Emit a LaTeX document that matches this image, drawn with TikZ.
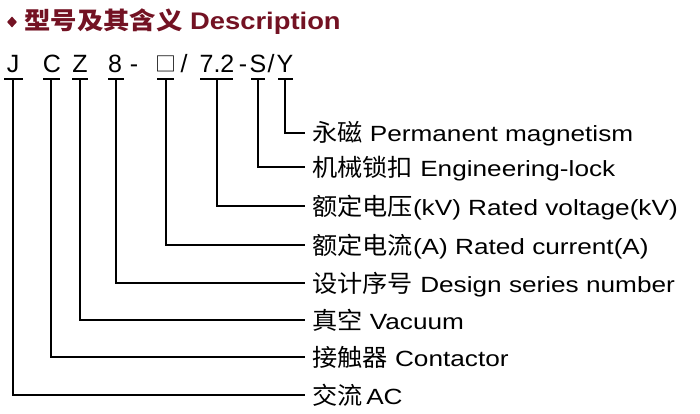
\documentclass[tikz,border=0pt]{standalone}
\usepackage{fontspec}
\setmainfont{Liberation Sans}
\newfontfamily\latlab[FakeStretch=1.19]{Liberation Sans}
\newfontfamily\lattitle[FakeStretch=1.14]{Liberation Sans}
\newfontfamily\cjklab[FakeStretch=1.05]{Noto Sans CJK SC}
\newfontfamily\cjktitle[FakeStretch=1.1]{Noto Sans CJK SC}
\usetikzlibrary{shapes.geometric}
\definecolor{titlered}{RGB}{115,18,35}
\newcommand{\cjs}[1]{{\cjklab\fontsize{24}{26}\selectfont #1}}
\tikzset{
  codetxt/.style={anchor=base, inner sep=0pt, font=\fontsize{25}{28}\selectfont},
  labtxt/.style={anchor=west, inner sep=0pt, text height=20pt, text depth=2pt,
                 font=\latlab\fontsize{22}{26}\selectfont},
  tickline/.style={line width=1.5pt},
  conn/.style={line width=1.2pt, shorten >=7pt},
}
\begin{document}
\begin{tikzpicture}[x=1pt,y=-1pt]
\useasboundingbox (0,0) rectangle (700,414);
% title
\node[diamond, fill=titlered, inner sep=0pt, minimum width=10pt, minimum height=11pt] (dia) at (12,22) {};
\node[anchor=west, inner sep=0pt, text=titlered] (title) at (24,22)
  {{\cjktitle\bfseries\fontsize{24}{26}\selectfont 型号及其含义}{\lattitle\bfseries\fontsize{24}{26}\selectfont\ Description}};
% code line
\node[codetxt] (cJ) at (13,73) {J};
\node[codetxt] (cC) at (52,73) {C};
\node[codetxt] (cZ) at (80,73) {Z};
\node[codetxt] (c8) at (115,73) {8};
\node[codetxt] (cd1) at (134,73) {-};
\node[anchor=base, inner sep=0pt, font=\cjklab\fontsize{20}{22}\selectfont] (cSq) at (166,72) {□};
\node[codetxt] (cs1) at (184,73) {/};
\node[codetxt] (c72) at (217,73) {7.2};
\node[codetxt] (cd2) at (243,73) {-};
\node[codetxt] (cS) at (258,73) {S};
\node[codetxt] (cs2) at (271,73) {/};
\node[codetxt] (cY) at (285,73) {Y};
% tick marks
\coordinate (tJ) at (13,79);
\coordinate (tC) at (51,79);
\coordinate (tZ) at (80,79);
\coordinate (t8) at (116,79);
\coordinate (tSq) at (166,79);
\coordinate (t72) at (217,79);
\coordinate (tS) at (258,79);
\coordinate (tY) at (285,79);
\draw[tickline] (4,79) -- (23,79);
\draw[tickline] (43,79) -- (60,79);
\draw[tickline] (72,79) -- (88,79);
\draw[tickline] (108,79) -- (124,79);
\draw[tickline] (157,79) -- (174,79);
\draw[tickline] (200,79) -- (233,79);
\draw[tickline] (251,79) -- (265,79);
\draw[tickline] (278,79) -- (293,79);
% labels
\node[labtxt] (lY) at (312,133) {\cjs{永磁} Permanent magnetism};
\node[labtxt] (lS) at (312,167) {\cjs{机械锁扣} Engineering-lock};
\node[labtxt] (l72) at (312,206) {\cjs{额定电压}(kV) Rated voltage(kV)};
\node[labtxt] (lSq) at (312,245) {\cjs{额定电流}(A) Rated current(A)};
\node[labtxt] (l8) at (312,283) {\cjs{设计序号} Design series number};
\node[labtxt] (lZ) at (312,320) {\cjs{真空} Vacuum};
\node[labtxt] (lC) at (312,357) {\cjs{接触器} Contactor};
\node[labtxt] (lJ) at (312,395) {\cjs{交流}\,AC};
% connectors
\draw[conn] (tY) |- (lY.west);
\draw[conn] (tS) |- (lS.west);
\draw[conn] (t72) |- (l72.west);
\draw[conn] (tSq) |- (lSq.west);
\draw[conn] (t8) |- (l8.west);
\draw[conn] (tZ) |- (lZ.west);
\draw[conn] (tC) |- (lC.west);
\draw[conn] (tJ) |- (lJ.west);
\end{tikzpicture}
\end{document}
